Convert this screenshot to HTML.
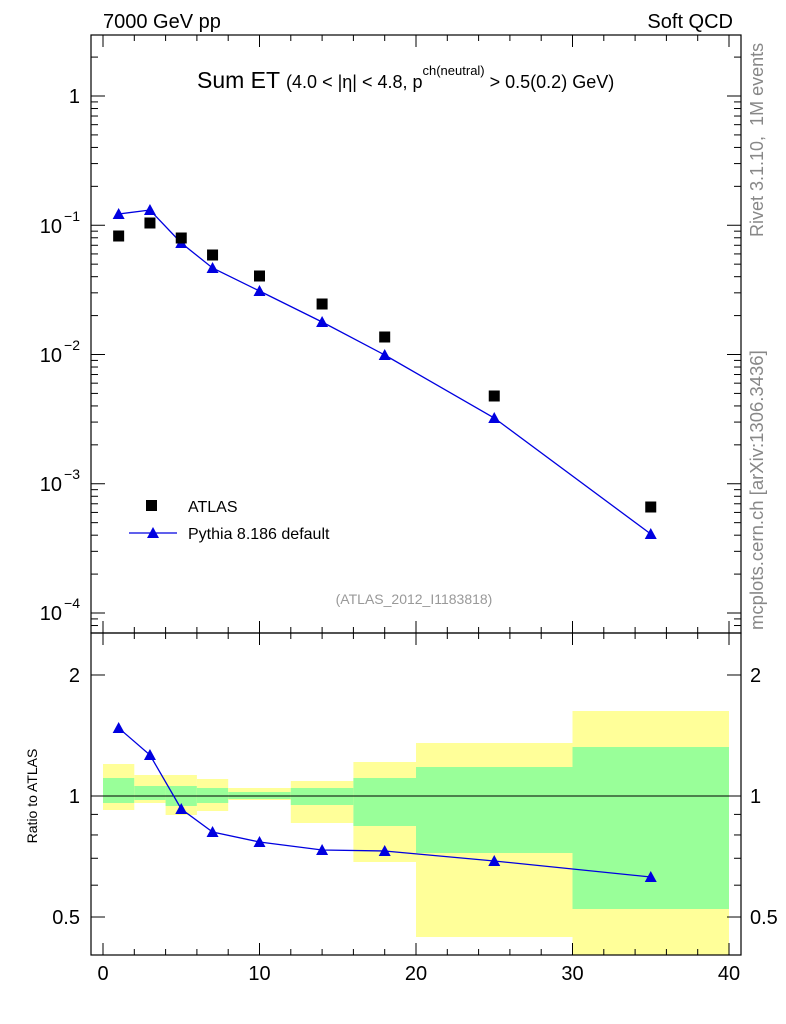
<!DOCTYPE html>
<html><head><meta charset="utf-8"><style>
body{margin:0;background:#fff;}
svg{display:block;font-family:"Liberation Sans",sans-serif;}
</style></head><body>
<svg id="s" width="786" height="1024" xmlns="http://www.w3.org/2000/svg">
<rect width="786" height="1024" fill="#fff"/>
<g id="bands"></g>
<line x1="91" y1="796" x2="741" y2="796" stroke="#000" stroke-width="1"/>
<g id="ticks" stroke="#000" stroke-width="1"></g>
<rect x="91" y="35" width="650" height="598" fill="none" stroke="#000" stroke-width="1.2"/>
<rect x="91" y="633" width="650" height="322" fill="none" stroke="#000" stroke-width="1.2"/>
<g id="data"></g>
<text x="103" y="28" font-size="20">7000 GeV pp</text>
<text x="733" y="28" font-size="20" text-anchor="end">Soft QCD</text>
<text x="197" y="88" font-size="23">Sum ET <tspan font-size="18">(4.0 &lt; |η| &lt; 4.8, p</tspan><tspan font-size="13" dy="-13">ch(neutral)</tspan><tspan font-size="18" dy="13"> &gt; 0.5(0.2) GeV)</tspan></text>
<text x="414" y="604" font-size="14" fill="#999" text-anchor="middle">(ATLAS_2012_I1183818)</text>
<rect x="146" y="500" width="11" height="11" fill="#000"/>
<text x="188" y="512" font-size="16">ATLAS</text>
<line x1="129" y1="533" x2="177" y2="533" stroke="#0000e0" stroke-width="1.3"/>
<polygon points="153,527 159,538 147,538" fill="#0000e0"/>
<text x="188" y="539" font-size="16">Pythia 8.186 default</text>
<text transform="translate(763,237) rotate(-90)" font-size="18" fill="#888">Rivet 3.1.10, &#160;1M events</text>
<text transform="translate(763,630) rotate(-90)" font-size="18.5" fill="#888">mcplots.cern.ch [arXiv:1306.3436]</text>
<text transform="translate(37,796) rotate(-90)" font-size="14" text-anchor="middle">Ratio to ATLAS</text>
<g font-size="20" text-anchor="end">
<text x="80" y="103">1</text>
<text x="62" y="233">10</text><text x="80" y="221" font-size="14">−1</text>
<text x="62" y="362">10</text><text x="80" y="350" font-size="14">−2</text>
<text x="62" y="491">10</text><text x="80" y="479" font-size="14">−3</text>
<text x="62" y="620">10</text><text x="80" y="608" font-size="14">−4</text>
<text x="80" y="682">2</text><text x="80" y="803">1</text><text x="80" y="924">0.5</text>
</g>
<g font-size="20">
<text x="750" y="682">2</text><text x="750" y="803">1</text><text x="750" y="924">0.5</text>
</g>
<g font-size="20" text-anchor="middle">
<text x="103" y="980">0</text><text x="259.5" y="980">10</text><text x="416" y="980">20</text><text x="572.5" y="980">30</text><text x="729" y="980">40</text>
</g>
</svg>
<script>
var NS="http://www.w3.org/2000/svg";
function el(p,t,a){var e=document.createElementNS(NS,t);for(var k in a)e.setAttribute(k,a[k]);document.getElementById(p).appendChild(e);return e;}
function X(v){return 103+v*15.65;}
function Y(v){return 96-Math.log10(v)*129.25;}
function R(v){return 796-Math.log10(v)*402;}
var bins=[[0,2],[2,4],[4,6],[6,8],[8,12],[12,16],[16,20],[20,30],[30,40]];
var yl=[[764,810],[775,803],[775,815],[779,811],[788,800],[781,823],[762,862],[743,937],[711,955]];
var gr=[[778,803],[786,800],[786,806],[788,803],[792,799],[788,805],[778,826],[767,853],[747,909]];
bins.forEach(function(b,i){
 el("bands","rect",{x:X(b[0]),y:yl[i][0],width:X(b[1])-X(b[0]),height:yl[i][1]-yl[i][0],fill:"#ffff99"});
 el("bands","rect",{x:X(b[0]),y:gr[i][0],width:X(b[1])-X(b[0]),height:gr[i][1]-gr[i][0],fill:"#99ff99"});
});
for(var v=0;v<=40;v+=2){var L=v%10==0?12:6;
 [[633,-1],[955,-1],[35,1],[633,1]].forEach(function(p){el("ticks","line",{x1:X(v),x2:X(v),y1:p[0],y2:p[0]+p[1]*L});});
}
for(var d=-5;d<=0;d++)for(var m=1;m<=9;m++){var y=Y(m*Math.pow(10,d));if(y<35||y>633)continue;var L=m==1?14:7;
 el("ticks","line",{x1:91,x2:91+L,y1:y,y2:y});el("ticks","line",{x1:741,x2:741-L,y1:y,y2:y});}
[0.4,0.5,0.6,0.7,0.8,0.9,1,2].forEach(function(v){var y=R(v);if(y>955)return;var L=(v==0.5||v==1||v==2)?14:7;
 el("ticks","line",{x1:91,x2:91+L,y1:y,y2:y});el("ticks","line",{x1:741,x2:741-L,y1:y,y2:y});});
var xs=[1,3,5,7,10,14,18,25,35];
var at=[236,223,238,255,276,304,337,396,507];
var py=[214,210,243,268,291,322,355,418,534];
var rr=[728,755,809,832,842,850,851,861,877];
function line(ys){el("data","polyline",{points:xs.map(function(x,i){return X(x)+","+ys[i]}).join(" "),fill:"none",stroke:"#0000e0","stroke-width":1.3});
 xs.forEach(function(x,i){var cx=X(x),cy=ys[i];el("data","polygon",{points:cx+","+(cy-6)+" "+(cx+6)+","+(cy+5)+" "+(cx-6)+","+(cy+5),fill:"#0000e0"});});}
line(py);line(rr);
xs.forEach(function(x,i){el("data","rect",{x:X(x)-5.5,y:at[i]-5.5,width:11,height:11,fill:"#000"});});
</script>
</body></html>
